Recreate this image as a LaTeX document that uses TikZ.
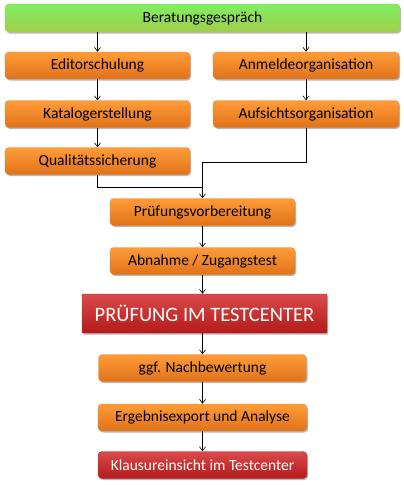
\documentclass[tikz,border=0pt]{standalone}
\usepackage{fontspec}
\setmainfont{Carlito}
\usetikzlibrary{arrows.meta,shadows}
\definecolor{otop}{HTML}{FF9C38}
\definecolor{obot}{HTML}{E0721A}
\definecolor{oedge}{HTML}{E8822A}
\definecolor{gtop}{HTML}{7EEE60}
\definecolor{gbot}{HTML}{A2CE4C}
\definecolor{gedge}{HTML}{8FD458}
\definecolor{rtop}{HTML}{DA4A4A}
\definecolor{rbot}{HTML}{B41A1A}
\definecolor{redge}{HTML}{C02A2A}
\begin{document}
\begin{tikzpicture}[x=1pt,y=-1pt,
  box/.style={rounded corners=4pt, minimum height=27pt, inner sep=0pt,
    font=\fontsize{15.5}{18}\selectfont, text=black,
    drop shadow={shadow xshift=1.2pt, shadow yshift=-1.6pt, opacity=0.28, fill=black}},
  obox/.style={box, top color=otop, bottom color=obot, draw=oedge, line width=0.4pt},
  gbox/.style={box, top color=gtop, bottom color=gbot, draw=gedge, line width=0.4pt},
  rbox/.style={box, top color=rtop, bottom color=rbot, draw=redge, line width=0.4pt, text=white},
  conn/.style={draw=black, line width=0.6pt, -{Straight Barb[length=4pt,width=6pt]}}
]
\useasboundingbox (0,0) rectangle (404,485);
\node[gbox, minimum width=395pt, minimum height=28pt] (b) at (202.5,18) {Beratungsgespräch};
\node[obox, minimum width=185pt] (e) at (97.5,65.5) {Editorschulung};
\node[obox, minimum width=186pt] (a) at (306,65.5) {Anmeldeorganisation};
\node[obox, minimum width=185pt] (k) at (97.5,114) {Katalogerstellung};
\node[obox, minimum width=186pt] (au) at (306,114) {Aufsichtsorganisation};
\node[obox, minimum width=185pt] (q) at (97.5,161) {Qualitätssicherung};
\node[obox, minimum width=185pt] (p) at (202.5,212) {Prüfungsvorbereitung};
\node[obox, minimum width=185pt] (z) at (202.5,261) {Abnahme / Zugangstest};
\node[rbox, minimum width=245pt, minimum height=39pt, rounded corners=1pt, font=\fontsize{20.5}{24}\selectfont] (t) at (204.5,313.5) {PRÜFUNG IM TESTCENTER};
\node[obox, minimum width=208pt] (n) at (202.5,368) {ggf. Nachbewertung};
\node[obox, minimum width=209pt] (x) at (202.5,417.5) {Ergebnisexport und Analyse};
\node[rbox, minimum width=209pt] (kl) at (202.5,465) {Klausureinsicht im Testcenter};
\coordinate (j1) at (97.5,187);
\coordinate (j2) at (306,162);
\draw[conn] (b.south -| e.north) -- (e.north);
\draw[conn] (b.south -| a.north) -- (a.north);
\draw[conn] (e) -- (k);
\draw[conn] (a) -- (au);
\draw[conn] (k) -- (q);
\draw[conn] (q.south) -- (j1) -- (j1 -| p.north) -- (p.north);
\draw[line width=0.6pt] (au.south) -- (j2) -- (j2 -| p.north) -- (j1 -| p.north);
\draw[conn] (p) -- (z);
\draw[conn] (z.south) -- (z.south |- t.north);
\draw[conn] (z.south |- t.south) -- (n.north);
\draw[conn] (n) -- (x);
\draw[conn] (x) -- (kl);
\end{tikzpicture}
\end{document}
